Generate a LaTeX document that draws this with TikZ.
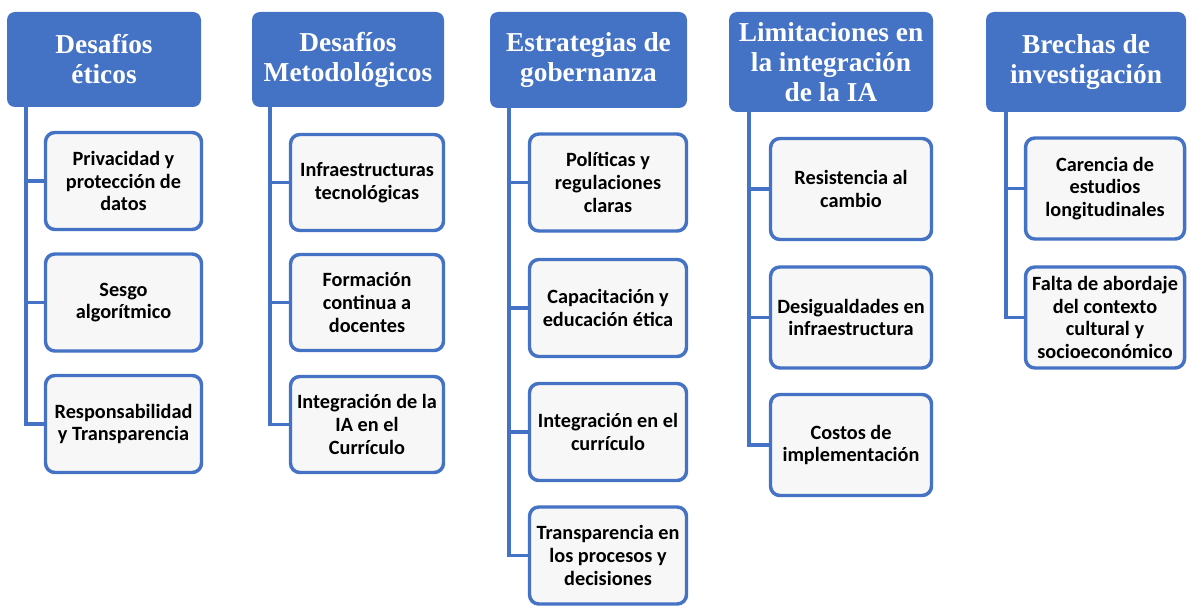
\documentclass[tikz,border=0pt]{standalone}
\usepackage{fontspec}
\newfontfamily\hdrfont{Liberation Serif}
\newfontfamily\boxfont{Carlito}
\definecolor{hblue}{HTML}{4472C4}
\definecolor{boxfill}{HTML}{F7F7F7}
\tikzset{
  hdr/.style={fill=hblue, draw=none, rounded corners=6pt, text=white, align=center, inner sep=0pt,
    font=\hdrfont\bfseries\fontsize{20.5}{22.5}\selectfont},
  leaf/.style={fill=boxfill, draw=hblue, line width=2.6pt, rounded corners=7pt, align=center, inner sep=0pt,
    font=\boxfont\bfseries\fontsize{15.2}{17}\selectfont},
  conn/.style={draw=hblue, line width=2.3pt}
}
\begin{document}
\begin{tikzpicture}[x=0.75pt,y=-0.75pt]
\useasboundingbox (0,0) rectangle (1187,606);
% headers
\node[hdr, minimum width=145.5pt, minimum height=71.25pt] (h1) at (104,59.5) {Desafíos\\éticos};
\node[hdr, minimum width=144pt, minimum height=71.25pt] (h2) at (348,59.5) {Desafíos\\Metodológicos};
\node[hdr, minimum width=147.75pt, minimum height=72pt] (h3) at (588.5,60) {Estrategias de\\gobernanza};
\node[hdr, minimum width=153pt, minimum height=75pt] (h4) at (831,62) {Limitaciones en\\la integración\\de la IA};
\node[hdr, minimum width=150pt, minimum height=75pt] (h5) at (1086,62) {Brechas de\\investigación};
% column 1
\node[leaf, minimum width=117pt, minimum height=72.75pt] (c11) at (123.5,181) {Privacidad y\\protección de\\datos};
\node[leaf, minimum width=117pt, minimum height=72.75pt] (c12) at (123.5,302.5) {Sesgo\\algorítmico};
\node[leaf, minimum width=117pt, minimum height=72.75pt] (c13) at (123.5,424) {Responsabilidad\\y Transparencia};
% column 2
\node[leaf, minimum width=114.75pt, minimum height=72pt] (c21) at (367,182.5) {Infraestructuras\\tecnológicas};
\node[leaf, minimum width=114.75pt, minimum height=72pt] (c22) at (367,302.5) {Formación\\continua a\\docentes};
\node[leaf, minimum width=114.75pt, minimum height=72pt] (c23) at (367,424.5) {Integración de la\\IA en el\\Currículo};
% column 3
\node[leaf, minimum width=117.75pt, minimum height=72.75pt] (c31) at (608,182.5) {Políticas y\\regulaciones\\claras};
\node[leaf, minimum width=117.75pt, minimum height=72.75pt] (c32) at (608,308) {Capacitación y\\educación ética};
\node[leaf, minimum width=117.75pt, minimum height=72.75pt] (c33) at (608,432) {Integración en el\\currículo};
\node[leaf, minimum width=117.75pt, minimum height=72.75pt] (c34) at (608,555.5) {Transparencia en\\los procesos y\\decisiones};
% column 4
\node[leaf, minimum width=120.75pt, minimum height=75.75pt] (c41) at (851,189) {Resistencia al\\cambio};
\node[leaf, minimum width=120.75pt, minimum height=75.75pt] (c42) at (851,317.5) {Desigualdades en\\infraestructura};
\node[leaf, minimum width=120.75pt, minimum height=75.75pt] (c43) at (851,445) {Costos de\\implementación};
% column 5
\node[leaf, minimum width=119.25pt, minimum height=75.75pt] (c51) at (1105,188.5) {Carencia de\\estudios\\longitudinales};
\node[leaf, minimum width=119.25pt, minimum height=75.75pt] (c52) at (1105,317.5) {Falta de abordaje\\del contexto\\cultural y\\socioeconómico};
% trunk coordinates
\coordinate (v1) at (26,0);
\coordinate (v2) at (270,0);
\coordinate (v3) at (509,0);
\coordinate (v4) at (749,0);
\coordinate (v5) at (1006,0);
% connectors
\draw[conn] (h1.south -| v1) |- (c13.west);
\draw[conn] (v1 |- c11.west) -- (c11.west);
\draw[conn] (v1 |- c12.west) -- (c12.west);
\draw[conn] (h2.south -| v2) |- (c23.west);
\draw[conn] (v2 |- c21.west) -- (c21.west);
\draw[conn] (v2 |- c22.west) -- (c22.west);
\draw[conn] (h3.south -| v3) |- (c34.west);
\draw[conn] (v3 |- c31.west) -- (c31.west);
\draw[conn] (v3 |- c32.west) -- (c32.west);
\draw[conn] (v3 |- c33.west) -- (c33.west);
\draw[conn] (h4.south -| v4) |- (c43.west);
\draw[conn] (v4 |- c41.west) -- (c41.west);
\draw[conn] (v4 |- c42.west) -- (c42.west);
\draw[conn] (h5.south -| v5) |- (c52.west);
\draw[conn] (v5 |- c51.west) -- (c51.west);
\end{tikzpicture}
\end{document}
